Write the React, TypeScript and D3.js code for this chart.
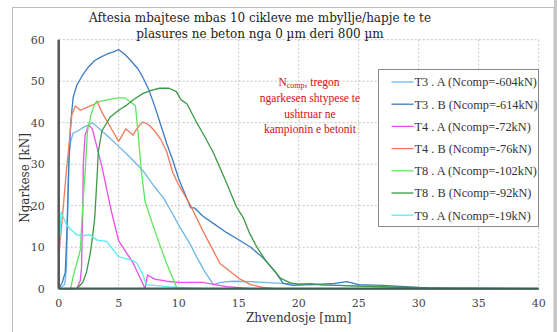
import { useRef, useEffect } from "react";
import * as d3 from "d3";

type Pt = [number, number];

// Series values (x = Zhvendosje [mm], y = Ngarkese [kN])
const t3a: Pt[] = [
  [0, 0], [0.5, 1], [0.65, 5], [0.75, 20], [0.85, 32], [1.0, 35.5], [1.2, 37.5], [1.6, 38], [2, 38.8], [2.5, 39.5],
  [2.8, 40], [3.2, 39], [4, 37], [5, 34.3], [6, 31.5], [7, 28.5], [8, 24.5], [8.7, 22], [9.5, 18], [10, 15.3],
  [11, 10.5], [11.5, 7.6], [12.2, 4], [12.9, 1], [13.5, 1.5], [14.5, 1.8], [16, 1.7], [17, 1.5], [19, 1.2],
  [21, 1], [25, 0.7], [28, 0.4], [30, 0], [40, 0],
];
const t3b: Pt[] = [
  [0, 0], [0.3, 1.5], [0.55, 4], [0.7, 15], [0.85, 30], [1.0, 40], [1.2, 46], [1.5, 49], [2, 51.5], [2.5, 53.5],
  [3, 55], [3.5, 55.8], [4, 56.5], [4.5, 57], [5, 57.6], [5.5, 56.5], [6, 55], [6.6, 53], [7, 51], [7.5, 48],
  [8, 44], [8.5, 39.5], [9, 35], [9.5, 31], [10, 26.5], [10.5, 23], [11, 19.5], [11.3, 19.5], [12, 17.5],
  [13, 15.5], [14, 13.5], [15, 11.8], [16, 10], [17, 7.5], [18, 4.3], [18.7, 1.3], [19.5, 0.8], [21, 1],
  [23, 1.3], [24, 1.7], [25, 1], [27, 0.8], [30, 0.3], [31, 0], [40, 0],
];
const t4a: Pt[] = [
  [0, 0], [1.5, 0], [1.8, 2], [1.9, 5], [2.0, 18], [2.05, 30], [2.2, 37], [2.5, 39.5], [2.8, 38.5], [3.2, 34],
  [3.6, 29.4], [4, 24], [4.4, 18.5], [5, 11.5], [6.2, 6.2], [7.2, 0], [7.4, 3.3], [8, 2.3], [9, 1.8], [10, 1.5],
  [11, 1.5], [12, 1.5], [13, 1], [14, 0.5], [16, 0], [40, 0],
];
const t4b: Pt[] = [
  [0, 0], [0.02, 8], [0.3, 17], [0.6, 27], [0.9, 36], [1.1, 42], [1.4, 44], [1.8, 43], [2.2, 43.5], [2.6, 44],
  [3.0, 44.5], [3.2, 45.2], [3.6, 42.5], [4, 40.5], [4.5, 38], [5, 35.5], [5.3, 37], [5.6, 38.5], [6, 37.5],
  [6.2, 37], [6.5, 38.5], [7, 40.2], [7.5, 39.5], [8, 38], [8.5, 36], [9, 33], [9.5, 28], [10, 25], [11, 20],
  [12, 14], [13, 8.5], [13.45, 6], [14, 4.8], [15, 2.5], [16, 1], [17, 0.3], [18, 0], [40, 0],
];
const t8a: Pt[] = [
  [0, 0], [1.0, 0], [1.2, 2.9], [1.8, 9.3], [2.0, 19.8], [2.2, 28], [2.4, 38], [2.7, 42], [3.0, 44.5], [3.3, 45],
  [4, 45.5], [5, 46], [5.5, 46], [6.0, 45], [6.4, 44], [6.6, 38], [6.9, 28], [7.2, 21], [8, 14], [9, 6],
  [9.8, 0.5], [10, 0], [40, 0],
];
const t8b: Pt[] = [
  [0, 0], [1.5, 0], [2, 1.5], [2.3, 3.8], [2.6, 8], [2.8, 12], [3.0, 17], [3.2, 27], [3.3, 33], [3.6, 38],
  [4.3, 41.4], [5, 43], [5.7, 44.3], [6.3, 45.7], [7, 47], [7.7, 47.8], [8.4, 48.3], [9.2, 48.3], [9.8, 47.5],
  [10.2, 45.5], [10.7, 44.5], [11.5, 40], [12.2, 36.5], [12.9, 32.7], [14, 25.4], [14.8, 19.8], [15.4, 17],
  [15.9, 13.4], [16.5, 10.1], [17.2, 7], [17.9, 4.5], [18.5, 2.5], [19.3, 1.4], [20, 1.1], [21, 1.2], [22, 0.9],
  [25, 0.6], [28, 0.4], [31, 0.2], [40, 0],
];
const t9a: Pt[] = [
  [0, 0], [0.05, 10], [0.2, 18.5], [0.67, 15.3], [1, 14.3], [1.5, 13], [2, 12.8], [2.6, 13], [3.2, 11.7],
  [4, 11.4], [4.5, 9.5], [5, 7.7], [5.5, 7.3], [6.1, 6.9], [6.5, 6.2], [7, 3.5], [7.3, 0.9], [8, 0.8],
  [9, 0.5], [10, 0.3], [12, 0], [40, 0],
];

const seriesNames = [
  "T3 . A (Ncomp=-604kN)",
  "T3 . B (Ncomp=-614kN)",
  "T4 . A (Ncomp=-72kN)",
  "T4 . B (Ncomp=-76kN)",
  "T8 . A (Ncomp=-102kN)",
  "T8 . B (Ncomp=-92kN)",
  "T9 . A (Ncomp=-19kN)",
];
const seriesData = [t3a, t3b, t4a, t4b, t8a, t8b, t9a];
const seriesColors = ["#6cb8e6", "#3d7cc0", "#e84ee8", "#f07a5a", "#5ee65e", "#3c9a46", "#55eef0"];

const xTicks = [0, 5, 10, 15, 20, 25, 30, 35, 40];
const yTicks = [0, 10, 20, 30, 40, 50, 60];
const titleLines = [
  "Aftesia mbajtese mbas 10 cikleve me mbyllje/hapje te te",
  "plasures ne beton nga 0 µm deri 800 µm",
];

const W = 557;
const H = 332;

export default function App() {
  const svgRef = useRef<SVGSVGElement>(null);

  useEffect(() => {
    if (!svgRef.current) return;
    const svg = d3.select(svgRef.current);
    svg.selectAll("*").remove();

    const m = { top: 39.7, right: 18.3, bottom: 43.3, left: 58.7 };
    const iW = W - m.left - m.right;
    const iH = H - m.top - m.bottom;
    const bookish = "DejaVu Serif, serif";
    const times = "Liberation Serif, Times New Roman, serif";

    // frame
    svg.append("rect").attr("width", W).attr("height", H).attr("fill", "#fff");
    svg.append("rect").attr("x", 554).attr("y", 0).attr("width", 3).attr("height", H).attr("fill", "#c8c8c8");
    svg.append("rect").attr("x", 12.5).attr("y", 7.5).attr("width", 541.5).attr("height", H)
      .attr("fill", "none").attr("stroke", "#bdbdbd");

    const g = svg.append("g").attr("transform", `translate(${m.left},${m.top})`);
    const x = d3.scaleLinear().domain([0, 40]).range([0, iW]);
    const y = d3.scaleLinear().domain([0, 60]).range([iH, 0]);

    // Grid
    g.append("g").selectAll("line").data(xTicks.slice(1)).join("line")
      .attr("x1", d => x(d)).attr("x2", d => x(d)).attr("y1", 0).attr("y2", iH)
      .attr("stroke", "#c4c4c4").attr("stroke-dasharray", "2,2");
    g.append("g").selectAll("line").data(yTicks.slice(1)).join("line")
      .attr("x1", 0).attr("x2", iW).attr("y1", d => y(d)).attr("y2", d => y(d))
      .attr("stroke", "#c4c4c4").attr("stroke-dasharray", "2,2");

    // Tick labels
    g.append("g").selectAll("text").data(xTicks).join("text")
      .attr("x", d => x(d)).attr("y", iH + 18).attr("text-anchor", "middle")
      .style("font-family", bookish).style("font-size", "11px").attr("fill", "#444").text(d => d);
    g.append("g").selectAll("text").data(yTicks).join("text")
      .attr("x", -14).attr("y", d => y(d)).attr("dy", "0.35em").attr("text-anchor", "end")
      .style("font-family", bookish).style("font-size", "11px").attr("fill", "#444").text(d => d);

    // Series
    const line = d3.line<Pt>().x(d => x(d[0])).y(d => y(d[1]));
    seriesData.forEach((data, i) => {
      g.append("path").datum(data).attr("fill", "none").attr("stroke", seriesColors[i])
        .attr("stroke-width", 1.3).attr("stroke-linejoin", "round").attr("d", line);
    });

    // Axes lines
    g.append("line").attr("x1", 0).attr("x2", 0).attr("y1", 0).attr("y2", iH)
      .attr("stroke", "#555").attr("stroke-width", 2.5);
    g.append("line").attr("x1", 0).attr("x2", iW).attr("y1", iH).attr("y2", iH)
      .attr("stroke", "#3f5f55").attr("stroke-width", 2.2);

    // Axis titles
    svg.append("text").attr("x", m.left + iW / 2).attr("y", 322).attr("text-anchor", "middle")
      .style("font-family", bookish).style("font-size", "12px").attr("fill", "#333").text("Zhvendosje [mm]");
    svg.append("text").attr("transform", "rotate(-90)").attr("x", -178).attr("y", 29)
      .attr("text-anchor", "middle").style("font-family", bookish).style("font-size", "12px")
      .attr("fill", "#333").text("Ngarkese [kN]");

    // Title
    titleLines.forEach((t, i) => {
      svg.append("text").attr("x", 260).attr("y", 22 + i * 15.5).attr("text-anchor", "middle")
        .style("font-family", bookish).style("font-size", "12px").attr("fill", "#222").text(t);
    });

    // Annotation
    const red = "#cc1111";
    const ann = svg.append("g").style("font-family", times).style("font-size", "11.5px").attr("fill", red)
      .attr("text-anchor", "middle");
    const a0 = ann.append("text").attr("x", 309).attr("y", 86);
    a0.append("tspan").text("N");
    a0.append("tspan").style("font-size", "8px").attr("dy", 2).text("comp");
    a0.append("tspan").attr("dy", -2).text(", tregon");
    ["ngarkesen shtypese te", "ushtruar ne", "kampionin e betonit"].forEach((t, i) => {
      ann.append("text").attr("x", 310).attr("y", 102 + i * 15.5).text(t);
    });

    // Legend
    const lg = svg.append("g").attr("transform", "translate(378.5,69.5)");
    lg.append("rect").attr("width", 160).attr("height", 157).attr("fill", "#fff").attr("stroke", "#8a8a8a");
    seriesNames.forEach((name, i) => {
      const yy = 12.5 + i * 22.2;
      lg.append("line").attr("x1", 13).attr("x2", 35).attr("y1", yy).attr("y2", yy)
        .attr("stroke", seriesColors[i]).attr("stroke-width", 1.3);
      lg.append("text").attr("x", 36).attr("y", yy).attr("dy", "0.35em")
        .style("font-family", times).style("font-size", "12.3px").attr("fill", "#333").text(name);
    });
  }, []);

  return (
    <svg ref={svgRef} width={W} height={H} style={{ position: "absolute", left: 0, top: 0 }} />
  );
}
